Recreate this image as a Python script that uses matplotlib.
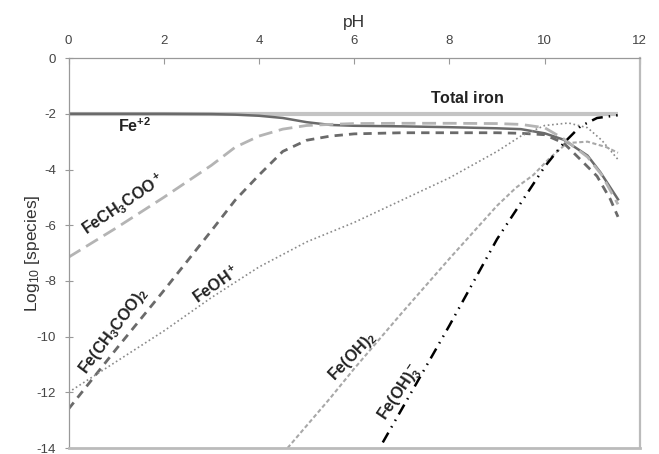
import matplotlib
matplotlib.use("Agg")
import matplotlib.pyplot as plt

plt.rcParams['font.family'] = ['Liberation Sans', 'DejaVu Sans']
plt.rcParams['mathtext.fontset'] = 'custom'
plt.rcParams['mathtext.rm'] = 'Liberation Sans'
plt.rcParams['mathtext.it'] = 'Liberation Sans'
plt.rcParams['mathtext.bf'] = 'Liberation Sans:bold'
plt.rcParams['axes.unicode_minus'] = False

# values (pH, log10 concentration)
ph_total = [0, 11.54]
total_iron = [-2.0, -2.0]

ph_fe2 = [0, 2, 3, 3.5, 4, 4.5, 5, 5.5, 6, 7, 8, 9, 9.5, 10, 10.4, 10.9, 11.17, 11.54]
fe2 = [-2.0, -2.0, -2.01, -2.03, -2.07, -2.15, -2.3, -2.4, -2.43, -2.45, -2.48, -2.52, -2.55, -2.7, -2.93, -3.5, -4.1, -5.07]

ph_feac = [0, 1, 2, 3, 3.5, 4, 4.5, 5, 5.5, 6, 7, 8, 9, 9.5, 10, 10.4, 10.9, 11.2, 11.54]
feac = [-7.15, -6.1, -5.0, -3.85, -3.2, -2.8, -2.55, -2.42, -2.38, -2.35, -2.34, -2.34, -2.35, -2.38, -2.5, -2.9, -3.55, -4.2, -5.25]

ph_feac2 = [0, 1, 2, 3, 3.5, 4, 4.5, 5, 5.5, 6, 7, 8, 9, 9.5, 10, 10.4, 10.75, 11.1, 11.38, 11.54]
feac2 = [-12.6, -10.45, -8.35, -6.2, -5.1, -4.2, -3.35, -2.95, -2.8, -2.72, -2.68, -2.68, -2.68, -2.7, -2.75, -3.05, -3.64, -4.24, -5.07, -5.7]

ph_feoh = [0, 1, 2, 3, 4, 5, 6, 7, 8, 9, 9.5, 10, 10.5, 10.9, 11.2, 11.54]
feoh = [-12.0, -10.9, -9.8, -8.6, -7.5, -6.6, -5.9, -5.1, -4.3, -3.35, -2.8, -2.42, -2.33, -2.5, -2.95, -3.64]

ph_feoh2 = [4.6, 5.5, 6, 7, 8, 9, 9.4, 9.76, 10.1, 10.47, 10.9, 11.3, 11.54]
feoh2 = [-14.0, -12.2, -11.15, -9.15, -7.2, -5.3, -4.65, -4.2, -3.6, -3.05, -3.0, -3.2, -3.4]

ph_feoh3 = [6.6, 7, 8, 9, 9.5, 10, 10.4, 10.75, 11.1, 11.54]
feoh3 = [-13.8, -12.6, -9.6, -6.5, -5.2, -3.9, -3.05, -2.45, -2.15, -2.05]

fig = plt.figure(figsize=(6.59, 4.54), dpi=100)
ax = fig.add_axes([0.104, 0.0132, 0.867, 0.8588])

ax.plot(ph_total, total_iron, color='#c4c4c4', lw=3.0, solid_capstyle='butt')
ax.plot(ph_fe2, fe2, color='#6a6a6a', lw=1.8)
ax.plot(ph_feac, feac, color='#b4b4b4', lw=2.0, dashes=(5.0, 2.4))
ax.plot(ph_feac2, feac2, color='#6a6a6a', lw=2.0, dashes=(3.0, 2.2))
ax.plot(ph_feoh, feoh, color='#8a8a8a', lw=1.2, dashes=(1.0, 1.6))
ax.plot(ph_feoh2, feoh2, color='#a8a8a8', lw=1.5, dashes=(2.0, 1.2))
ax.plot(ph_feoh3, feoh3, color='black', lw=1.8, dashes=(4.5, 2.4, 0.6, 2.4, 0.6, 2.4))

ax.set_xlim(0, 12)
ax.set_ylim(-14, 0)
ax.set_xticks(range(0, 13, 2))
ax.set_yticks(range(-14, 1, 2))
ax.xaxis.tick_top()
ax.xaxis.set_label_position('top')
ax.set_xlabel('pH', fontsize=12.5, color='#333333', labelpad=6)
ax.set_ylabel('Log$_{10}$ [species]', fontsize=12.5, color='#333333')
ax.yaxis.set_label_coords(-0.047, 0.5)
ax.tick_params(axis='x', direction='in', length=4, width=0.8, color='#999999',
               labelsize=9.5, labelcolor='#444444', pad=8)
ax.tick_params(axis='y', direction='inout', length=6, width=0.8, color='#999999',
               labelsize=9.5, labelcolor='#444444', pad=6)
for side in ['top', 'left', 'right']:
    ax.spines[side].set_color('#999999')
    ax.spines[side].set_linewidth(0.9)
ax.spines['bottom'].set_color('#bbbbbb')
ax.spines['bottom'].set_linewidth(2.0)
ax.spines['right'].set_color('#bbbbbb')
ax.spines['right'].set_linewidth(1.6)

lab = dict(fontsize=11.5, color='#222222', ha='center', va='center')
ax.text(8.37, -1.43, r'$\mathbf{Total\ iron}$', **lab)
ax.text(1.38, -2.43, r'$\mathbf{Fe^{+2}}$', **lab)
ax.text(1.15, -5.25, r'$\mathbf{FeCH_3COO^+}$', rotation=34, **lab)
ax.text(0.94, -9.79, r'$\mathbf{Fe(CH_3COO)_2}$', rotation=53, **lab)
ax.text(3.11, -8.14, r'$\mathbf{FeOH^+}$', rotation=35, **lab)
ax.text(5.97, -10.7, r'$\mathbf{Fe(OH)_2}$', rotation=46, **lab)
ax.text(6.96, -12.04, r'$\mathbf{Fe(OH)_3^-}$', rotation=56, **lab)

fig.savefig('out.png', dpi=100)
